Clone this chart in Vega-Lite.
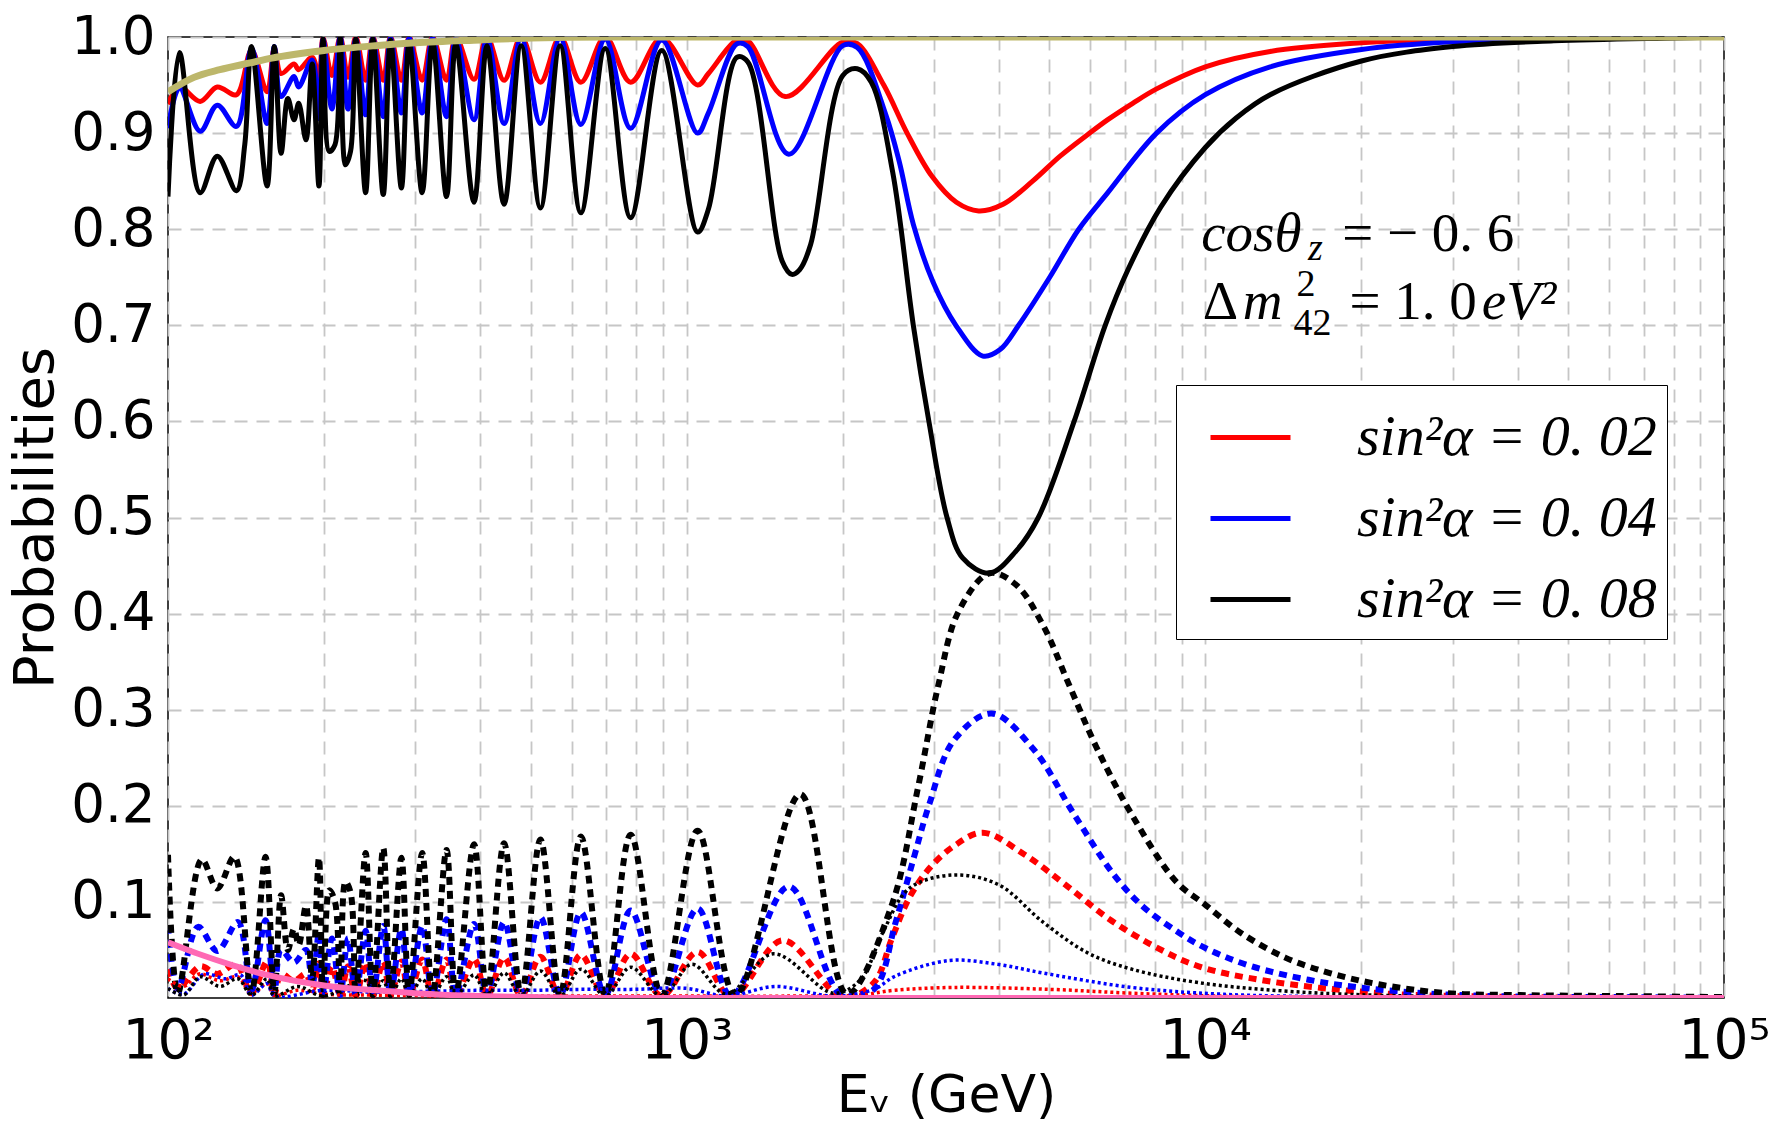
{
  "$schema": "https://vega.github.io/schema/vega-lite/v6.json",
  "width": 1556,
  "height": 961,
  "autosize": {"type": "none"},
  "padding": {"left": 168, "top": 37, "right": 49, "bottom": 137},
  "background": "white",
  "config": {
    "view": {"stroke": "black", "strokeWidth": 1.5},
    "axis": {
      "grid": true,
      "gridDash": [13, 9],
      "gridColor": "#c6c6c6",
      "gridWidth": 1.8,
      "ticks": false,
      "domain": false,
      "labelFont": "DejaVu Sans",
      "labelColor": "black",
      "labelFontSize": 53,
      "titleFont": "DejaVu Sans",
      "titleColor": "black",
      "titleFontSize": 52,
      "titleFontWeight": "normal"
    }
  },
  "datasets": {
    "curves": [
      {"kind": "solid", "s2a": "0.02", "logE": 2.000, "P": 0.930},
      {"kind": "solid", "s2a": "0.02", "logE": 2.022, "P": 0.948},
      {"kind": "solid", "s2a": "0.02", "logE": 2.062, "P": 0.933},
      {"kind": "solid", "s2a": "0.02", "logE": 2.095, "P": 0.948},
      {"kind": "solid", "s2a": "0.02", "logE": 2.132, "P": 0.940},
      {"kind": "solid", "s2a": "0.02", "logE": 2.161, "P": 0.986},
      {"kind": "solid", "s2a": "0.02", "logE": 2.191, "P": 0.943},
      {"kind": "solid", "s2a": "0.02", "logE": 2.205, "P": 0.988},
      {"kind": "solid", "s2a": "0.02", "logE": 2.218, "P": 0.962},
      {"kind": "solid", "s2a": "0.02", "logE": 2.243, "P": 0.972},
      {"kind": "solid", "s2a": "0.02", "logE": 2.252, "P": 0.966},
      {"kind": "solid", "s2a": "0.02", "logE": 2.278, "P": 0.979},
      {"kind": "solid", "s2a": "0.02", "logE": 2.291, "P": 0.958},
      {"kind": "solid", "s2a": "0.02", "logE": 2.299, "P": 0.999},
      {"kind": "solid", "s2a": "0.02", "logE": 2.316, "P": 0.960},
      {"kind": "solid", "s2a": "0.02", "logE": 2.332, "P": 1.0},
      {"kind": "solid", "s2a": "0.02", "logE": 2.347, "P": 0.958},
      {"kind": "solid", "s2a": "0.02", "logE": 2.362, "P": 1.0},
      {"kind": "solid", "s2a": "0.02", "logE": 2.381, "P": 0.955},
      {"kind": "solid", "s2a": "0.02", "logE": 2.395, "P": 1.0},
      {"kind": "solid", "s2a": "0.02", "logE": 2.415, "P": 0.955},
      {"kind": "solid", "s2a": "0.02", "logE": 2.429, "P": 1.0},
      {"kind": "solid", "s2a": "0.02", "logE": 2.450, "P": 0.955},
      {"kind": "solid", "s2a": "0.02", "logE": 2.465, "P": 1.0},
      {"kind": "solid", "s2a": "0.02", "logE": 2.490, "P": 0.955},
      {"kind": "solid", "s2a": "0.02", "logE": 2.510, "P": 1.0},
      {"kind": "solid", "s2a": "0.02", "logE": 2.537, "P": 0.955},
      {"kind": "solid", "s2a": "0.02", "logE": 2.555, "P": 1.0},
      {"kind": "solid", "s2a": "0.02", "logE": 2.590, "P": 0.956},
      {"kind": "solid", "s2a": "0.02", "logE": 2.615, "P": 1.0},
      {"kind": "solid", "s2a": "0.02", "logE": 2.648, "P": 0.955},
      {"kind": "solid", "s2a": "0.02", "logE": 2.681, "P": 1.0},
      {"kind": "solid", "s2a": "0.02", "logE": 2.718, "P": 0.953},
      {"kind": "solid", "s2a": "0.02", "logE": 2.756, "P": 1.0},
      {"kind": "solid", "s2a": "0.02", "logE": 2.796, "P": 0.953},
      {"kind": "solid", "s2a": "0.02", "logE": 2.843, "P": 1.0},
      {"kind": "solid", "s2a": "0.02", "logE": 2.892, "P": 0.953},
      {"kind": "solid", "s2a": "0.02", "logE": 2.952, "P": 0.999},
      {"kind": "solid", "s2a": "0.02", "logE": 3.021, "P": 0.950},
      {"kind": "solid", "s2a": "0.02", "logE": 3.042, "P": 0.962},
      {"kind": "solid", "s2a": "0.02", "logE": 3.097, "P": 0.997},
      {"kind": "solid", "s2a": "0.02", "logE": 3.118, "P": 0.996},
      {"kind": "solid", "s2a": "0.02", "logE": 3.190, "P": 0.938},
      {"kind": "solid", "s2a": "0.02", "logE": 3.301, "P": 0.995},
      {"kind": "solid", "s2a": "0.02", "logE": 3.329, "P": 0.993},
      {"kind": "solid", "s2a": "0.02", "logE": 3.380, "P": 0.950},
      {"kind": "solid", "s2a": "0.02", "logE": 3.425, "P": 0.900},
      {"kind": "solid", "s2a": "0.02", "logE": 3.473, "P": 0.855},
      {"kind": "solid", "s2a": "0.02", "logE": 3.520, "P": 0.828},
      {"kind": "solid", "s2a": "0.02", "logE": 3.563, "P": 0.819},
      {"kind": "solid", "s2a": "0.02", "logE": 3.610, "P": 0.826},
      {"kind": "solid", "s2a": "0.02", "logE": 3.667, "P": 0.850},
      {"kind": "solid", "s2a": "0.02", "logE": 3.720, "P": 0.876},
      {"kind": "solid", "s2a": "0.02", "logE": 3.777, "P": 0.900},
      {"kind": "solid", "s2a": "0.02", "logE": 3.812, "P": 0.914},
      {"kind": "solid", "s2a": "0.02", "logE": 3.860, "P": 0.931},
      {"kind": "solid", "s2a": "0.02", "logE": 3.906, "P": 0.946},
      {"kind": "solid", "s2a": "0.02", "logE": 4.000, "P": 0.969},
      {"kind": "solid", "s2a": "0.02", "logE": 4.125, "P": 0.985},
      {"kind": "solid", "s2a": "0.02", "logE": 4.301, "P": 0.994},
      {"kind": "solid", "s2a": "0.02", "logE": 4.477, "P": 0.998},
      {"kind": "solid", "s2a": "0.02", "logE": 4.700, "P": 1.0},
      {"kind": "solid", "s2a": "0.02", "logE": 5.0, "P": 1.0},

      {"kind": "solid", "s2a": "0.04", "logE": 2.000, "P": 0.905},
      {"kind": "solid", "s2a": "0.04", "logE": 2.022, "P": 0.947},
      {"kind": "solid", "s2a": "0.04", "logE": 2.062, "P": 0.902},
      {"kind": "solid", "s2a": "0.04", "logE": 2.095, "P": 0.929},
      {"kind": "solid", "s2a": "0.04", "logE": 2.132, "P": 0.907},
      {"kind": "solid", "s2a": "0.04", "logE": 2.161, "P": 0.988},
      {"kind": "solid", "s2a": "0.04", "logE": 2.191, "P": 0.910},
      {"kind": "solid", "s2a": "0.04", "logE": 2.205, "P": 0.990},
      {"kind": "solid", "s2a": "0.04", "logE": 2.218, "P": 0.938},
      {"kind": "solid", "s2a": "0.04", "logE": 2.243, "P": 0.959},
      {"kind": "solid", "s2a": "0.04", "logE": 2.252, "P": 0.948},
      {"kind": "solid", "s2a": "0.04", "logE": 2.278, "P": 0.976},
      {"kind": "solid", "s2a": "0.04", "logE": 2.291, "P": 0.915},
      {"kind": "solid", "s2a": "0.04", "logE": 2.299, "P": 0.998},
      {"kind": "solid", "s2a": "0.04", "logE": 2.316, "P": 0.925},
      {"kind": "solid", "s2a": "0.04", "logE": 2.332, "P": 1.0},
      {"kind": "solid", "s2a": "0.04", "logE": 2.347, "P": 0.925},
      {"kind": "solid", "s2a": "0.04", "logE": 2.362, "P": 0.998},
      {"kind": "solid", "s2a": "0.04", "logE": 2.381, "P": 0.919},
      {"kind": "solid", "s2a": "0.04", "logE": 2.395, "P": 0.999},
      {"kind": "solid", "s2a": "0.04", "logE": 2.415, "P": 0.917},
      {"kind": "solid", "s2a": "0.04", "logE": 2.429, "P": 0.999},
      {"kind": "solid", "s2a": "0.04", "logE": 2.450, "P": 0.921},
      {"kind": "solid", "s2a": "0.04", "logE": 2.465, "P": 0.999},
      {"kind": "solid", "s2a": "0.04", "logE": 2.490, "P": 0.921},
      {"kind": "solid", "s2a": "0.04", "logE": 2.510, "P": 0.999},
      {"kind": "solid", "s2a": "0.04", "logE": 2.537, "P": 0.917},
      {"kind": "solid", "s2a": "0.04", "logE": 2.555, "P": 0.999},
      {"kind": "solid", "s2a": "0.04", "logE": 2.590, "P": 0.914},
      {"kind": "solid", "s2a": "0.04", "logE": 2.615, "P": 0.999},
      {"kind": "solid", "s2a": "0.04", "logE": 2.648, "P": 0.910},
      {"kind": "solid", "s2a": "0.04", "logE": 2.681, "P": 0.999},
      {"kind": "solid", "s2a": "0.04", "logE": 2.718, "P": 0.910},
      {"kind": "solid", "s2a": "0.04", "logE": 2.756, "P": 0.999},
      {"kind": "solid", "s2a": "0.04", "logE": 2.796, "P": 0.909},
      {"kind": "solid", "s2a": "0.04", "logE": 2.843, "P": 0.998},
      {"kind": "solid", "s2a": "0.04", "logE": 2.892, "P": 0.905},
      {"kind": "solid", "s2a": "0.04", "logE": 2.952, "P": 0.997},
      {"kind": "solid", "s2a": "0.04", "logE": 3.021, "P": 0.900},
      {"kind": "solid", "s2a": "0.04", "logE": 3.042, "P": 0.921},
      {"kind": "solid", "s2a": "0.04", "logE": 3.097, "P": 0.993},
      {"kind": "solid", "s2a": "0.04", "logE": 3.118, "P": 0.990},
      {"kind": "solid", "s2a": "0.04", "logE": 3.197, "P": 0.878},
      {"kind": "solid", "s2a": "0.04", "logE": 3.301, "P": 0.991},
      {"kind": "solid", "s2a": "0.04", "logE": 3.329, "P": 0.989},
      {"kind": "solid", "s2a": "0.04", "logE": 3.384, "P": 0.919},
      {"kind": "solid", "s2a": "0.04", "logE": 3.410, "P": 0.870},
      {"kind": "solid", "s2a": "0.04", "logE": 3.437, "P": 0.805},
      {"kind": "solid", "s2a": "0.04", "logE": 3.475, "P": 0.745},
      {"kind": "solid", "s2a": "0.04", "logE": 3.519, "P": 0.700},
      {"kind": "solid", "s2a": "0.04", "logE": 3.571, "P": 0.668},
      {"kind": "solid", "s2a": "0.04", "logE": 3.605, "P": 0.675},
      {"kind": "solid", "s2a": "0.04", "logE": 3.640, "P": 0.700},
      {"kind": "solid", "s2a": "0.04", "logE": 3.700, "P": 0.750},
      {"kind": "solid", "s2a": "0.04", "logE": 3.756, "P": 0.800},
      {"kind": "solid", "s2a": "0.04", "logE": 3.812, "P": 0.838},
      {"kind": "solid", "s2a": "0.04", "logE": 3.906, "P": 0.900},
      {"kind": "solid", "s2a": "0.04", "logE": 4.000, "P": 0.940},
      {"kind": "solid", "s2a": "0.04", "logE": 4.125, "P": 0.969},
      {"kind": "solid", "s2a": "0.04", "logE": 4.301, "P": 0.987},
      {"kind": "solid", "s2a": "0.04", "logE": 4.477, "P": 0.995},
      {"kind": "solid", "s2a": "0.04", "logE": 4.672, "P": 0.998},
      {"kind": "solid", "s2a": "0.04", "logE": 4.900, "P": 1.0},
      {"kind": "solid", "s2a": "0.04", "logE": 5.0, "P": 1.0},

      {"kind": "solid", "s2a": "0.08", "logE": 2.000, "P": 0.834},
      {"kind": "solid", "s2a": "0.08", "logE": 2.022, "P": 0.984},
      {"kind": "solid", "s2a": "0.08", "logE": 2.062, "P": 0.838},
      {"kind": "solid", "s2a": "0.08", "logE": 2.095, "P": 0.876},
      {"kind": "solid", "s2a": "0.08", "logE": 2.132, "P": 0.840},
      {"kind": "solid", "s2a": "0.08", "logE": 2.148, "P": 0.888},
      {"kind": "solid", "s2a": "0.08", "logE": 2.161, "P": 0.990},
      {"kind": "solid", "s2a": "0.08", "logE": 2.191, "P": 0.845},
      {"kind": "solid", "s2a": "0.08", "logE": 2.205, "P": 0.990},
      {"kind": "solid", "s2a": "0.08", "logE": 2.218, "P": 0.879},
      {"kind": "solid", "s2a": "0.08", "logE": 2.231, "P": 0.936},
      {"kind": "solid", "s2a": "0.08", "logE": 2.243, "P": 0.914},
      {"kind": "solid", "s2a": "0.08", "logE": 2.252, "P": 0.931},
      {"kind": "solid", "s2a": "0.08", "logE": 2.266, "P": 0.893},
      {"kind": "solid", "s2a": "0.08", "logE": 2.278, "P": 0.972},
      {"kind": "solid", "s2a": "0.08", "logE": 2.291, "P": 0.845},
      {"kind": "solid", "s2a": "0.08", "logE": 2.299, "P": 0.998},
      {"kind": "solid", "s2a": "0.08", "logE": 2.311, "P": 0.881},
      {"kind": "solid", "s2a": "0.08", "logE": 2.322, "P": 0.888},
      {"kind": "solid", "s2a": "0.08", "logE": 2.332, "P": 1.0},
      {"kind": "solid", "s2a": "0.08", "logE": 2.342, "P": 0.867},
      {"kind": "solid", "s2a": "0.08", "logE": 2.352, "P": 0.881},
      {"kind": "solid", "s2a": "0.08", "logE": 2.362, "P": 0.998},
      {"kind": "solid", "s2a": "0.08", "logE": 2.381, "P": 0.838},
      {"kind": "solid", "s2a": "0.08", "logE": 2.395, "P": 0.998},
      {"kind": "solid", "s2a": "0.08", "logE": 2.415, "P": 0.836},
      {"kind": "solid", "s2a": "0.08", "logE": 2.429, "P": 0.997},
      {"kind": "solid", "s2a": "0.08", "logE": 2.450, "P": 0.843},
      {"kind": "solid", "s2a": "0.08", "logE": 2.465, "P": 0.995},
      {"kind": "solid", "s2a": "0.08", "logE": 2.490, "P": 0.838},
      {"kind": "solid", "s2a": "0.08", "logE": 2.510, "P": 0.995},
      {"kind": "solid", "s2a": "0.08", "logE": 2.537, "P": 0.834},
      {"kind": "solid", "s2a": "0.08", "logE": 2.555, "P": 0.993},
      {"kind": "solid", "s2a": "0.08", "logE": 2.590, "P": 0.828},
      {"kind": "solid", "s2a": "0.08", "logE": 2.615, "P": 0.991},
      {"kind": "solid", "s2a": "0.08", "logE": 2.648, "P": 0.826},
      {"kind": "solid", "s2a": "0.08", "logE": 2.681, "P": 0.991},
      {"kind": "solid", "s2a": "0.08", "logE": 2.718, "P": 0.822},
      {"kind": "solid", "s2a": "0.08", "logE": 2.756, "P": 0.991},
      {"kind": "solid", "s2a": "0.08", "logE": 2.796, "P": 0.817},
      {"kind": "solid", "s2a": "0.08", "logE": 2.843, "P": 0.988},
      {"kind": "solid", "s2a": "0.08", "logE": 2.892, "P": 0.812},
      {"kind": "solid", "s2a": "0.08", "logE": 2.952, "P": 0.986},
      {"kind": "solid", "s2a": "0.08", "logE": 3.021, "P": 0.797},
      {"kind": "solid", "s2a": "0.08", "logE": 3.042, "P": 0.821},
      {"kind": "solid", "s2a": "0.08", "logE": 3.097, "P": 0.979},
      {"kind": "solid", "s2a": "0.08", "logE": 3.118, "P": 0.974},
      {"kind": "solid", "s2a": "0.08", "logE": 3.184, "P": 0.767},
      {"kind": "solid", "s2a": "0.08", "logE": 3.203, "P": 0.753},
      {"kind": "solid", "s2a": "0.08", "logE": 3.218, "P": 0.758},
      {"kind": "solid", "s2a": "0.08", "logE": 3.239, "P": 0.784},
      {"kind": "solid", "s2a": "0.08", "logE": 3.301, "P": 0.960},
      {"kind": "solid", "s2a": "0.08", "logE": 3.329, "P": 0.967},
      {"kind": "solid", "s2a": "0.08", "logE": 3.356, "P": 0.953},
      {"kind": "solid", "s2a": "0.08", "logE": 3.397, "P": 0.860},
      {"kind": "solid", "s2a": "0.08", "logE": 3.437, "P": 0.700},
      {"kind": "solid", "s2a": "0.08", "logE": 3.467, "P": 0.600},
      {"kind": "solid", "s2a": "0.08", "logE": 3.502, "P": 0.500},
      {"kind": "solid", "s2a": "0.08", "logE": 3.532, "P": 0.458},
      {"kind": "solid", "s2a": "0.08", "logE": 3.584, "P": 0.442},
      {"kind": "solid", "s2a": "0.08", "logE": 3.635, "P": 0.465},
      {"kind": "solid", "s2a": "0.08", "logE": 3.678, "P": 0.500},
      {"kind": "solid", "s2a": "0.08", "logE": 3.747, "P": 0.600},
      {"kind": "solid", "s2a": "0.08", "logE": 3.807, "P": 0.700},
      {"kind": "solid", "s2a": "0.08", "logE": 3.851, "P": 0.758},
      {"kind": "solid", "s2a": "0.08", "logE": 3.914, "P": 0.823},
      {"kind": "solid", "s2a": "0.08", "logE": 4.000, "P": 0.885},
      {"kind": "solid", "s2a": "0.08", "logE": 4.060, "P": 0.916},
      {"kind": "solid", "s2a": "0.08", "logE": 4.125, "P": 0.940},
      {"kind": "solid", "s2a": "0.08", "logE": 4.301, "P": 0.975},
      {"kind": "solid", "s2a": "0.08", "logE": 4.477, "P": 0.990},
      {"kind": "solid", "s2a": "0.08", "logE": 4.672, "P": 0.996},
      {"kind": "solid", "s2a": "0.08", "logE": 4.907, "P": 0.999},
      {"kind": "solid", "s2a": "0.08", "logE": 5.0, "P": 1.0},

      {"kind": "dashed", "s2a": "0.02", "logE": 2.000, "P": 0.030},
      {"kind": "dashed", "s2a": "0.02", "logE": 2.019, "P": 0.010},
      {"kind": "dashed", "s2a": "0.02", "logE": 2.062, "P": 0.033},
      {"kind": "dashed", "s2a": "0.02", "logE": 2.095, "P": 0.025},
      {"kind": "dashed", "s2a": "0.02", "logE": 2.132, "P": 0.035},
      {"kind": "dashed", "s2a": "0.02", "logE": 2.161, "P": 0.005},
      {"kind": "dashed", "s2a": "0.02", "logE": 2.191, "P": 0.038},
      {"kind": "dashed", "s2a": "0.02", "logE": 2.205, "P": 0.004},
      {"kind": "dashed", "s2a": "0.02", "logE": 2.218, "P": 0.025},
      {"kind": "dashed", "s2a": "0.02", "logE": 2.243, "P": 0.018},
      {"kind": "dashed", "s2a": "0.02", "logE": 2.266, "P": 0.025},
      {"kind": "dashed", "s2a": "0.02", "logE": 2.278, "P": 0.008},
      {"kind": "dashed", "s2a": "0.02", "logE": 2.291, "P": 0.036},
      {"kind": "dashed", "s2a": "0.02", "logE": 2.299, "P": 0.002},
      {"kind": "dashed", "s2a": "0.02", "logE": 2.316, "P": 0.033},
      {"kind": "dashed", "s2a": "0.02", "logE": 2.332, "P": 0.002},
      {"kind": "dashed", "s2a": "0.02", "logE": 2.347, "P": 0.033},
      {"kind": "dashed", "s2a": "0.02", "logE": 2.362, "P": 0.002},
      {"kind": "dashed", "s2a": "0.02", "logE": 2.381, "P": 0.037},
      {"kind": "dashed", "s2a": "0.02", "logE": 2.395, "P": 0.002},
      {"kind": "dashed", "s2a": "0.02", "logE": 2.415, "P": 0.038},
      {"kind": "dashed", "s2a": "0.02", "logE": 2.429, "P": 0.002},
      {"kind": "dashed", "s2a": "0.02", "logE": 2.450, "P": 0.038},
      {"kind": "dashed", "s2a": "0.02", "logE": 2.465, "P": 0.002},
      {"kind": "dashed", "s2a": "0.02", "logE": 2.490, "P": 0.040},
      {"kind": "dashed", "s2a": "0.02", "logE": 2.510, "P": 0.002},
      {"kind": "dashed", "s2a": "0.02", "logE": 2.537, "P": 0.040},
      {"kind": "dashed", "s2a": "0.02", "logE": 2.555, "P": 0.002},
      {"kind": "dashed", "s2a": "0.02", "logE": 2.590, "P": 0.041},
      {"kind": "dashed", "s2a": "0.02", "logE": 2.615, "P": 0.002},
      {"kind": "dashed", "s2a": "0.02", "logE": 2.648, "P": 0.042},
      {"kind": "dashed", "s2a": "0.02", "logE": 2.681, "P": 0.002},
      {"kind": "dashed", "s2a": "0.02", "logE": 2.718, "P": 0.043},
      {"kind": "dashed", "s2a": "0.02", "logE": 2.756, "P": 0.002},
      {"kind": "dashed", "s2a": "0.02", "logE": 2.796, "P": 0.045},
      {"kind": "dashed", "s2a": "0.02", "logE": 2.843, "P": 0.002},
      {"kind": "dashed", "s2a": "0.02", "logE": 2.892, "P": 0.046},
      {"kind": "dashed", "s2a": "0.02", "logE": 2.952, "P": 0.002},
      {"kind": "dashed", "s2a": "0.02", "logE": 3.021, "P": 0.048},
      {"kind": "dashed", "s2a": "0.02", "logE": 3.086, "P": 0.001},
      {"kind": "dashed", "s2a": "0.02", "logE": 3.185, "P": 0.060},
      {"kind": "dashed", "s2a": "0.02", "logE": 3.300, "P": 0.001},
      {"kind": "dashed", "s2a": "0.02", "logE": 3.361, "P": 0.016},
      {"kind": "dashed", "s2a": "0.02", "logE": 3.395, "P": 0.061},
      {"kind": "dashed", "s2a": "0.02", "logE": 3.429, "P": 0.104},
      {"kind": "dashed", "s2a": "0.02", "logE": 3.468, "P": 0.135},
      {"kind": "dashed", "s2a": "0.02", "logE": 3.515, "P": 0.158},
      {"kind": "dashed", "s2a": "0.02", "logE": 3.571, "P": 0.172},
      {"kind": "dashed", "s2a": "0.02", "logE": 3.652, "P": 0.149},
      {"kind": "dashed", "s2a": "0.02", "logE": 3.730, "P": 0.118},
      {"kind": "dashed", "s2a": "0.02", "logE": 3.815, "P": 0.082},
      {"kind": "dashed", "s2a": "0.02", "logE": 3.901, "P": 0.054},
      {"kind": "dashed", "s2a": "0.02", "logE": 3.987, "P": 0.033},
      {"kind": "dashed", "s2a": "0.02", "logE": 4.116, "P": 0.018},
      {"kind": "dashed", "s2a": "0.02", "logE": 4.339, "P": 0.005},
      {"kind": "dashed", "s2a": "0.02", "logE": 4.6, "P": 0.001},
      {"kind": "dashed", "s2a": "0.02", "logE": 5.0, "P": 0.0},

      {"kind": "dashed", "s2a": "0.04", "logE": 2.000, "P": 0.075},
      {"kind": "dashed", "s2a": "0.04", "logE": 2.019, "P": 0.010},
      {"kind": "dashed", "s2a": "0.04", "logE": 2.058, "P": 0.074},
      {"kind": "dashed", "s2a": "0.04", "logE": 2.095, "P": 0.049},
      {"kind": "dashed", "s2a": "0.04", "logE": 2.135, "P": 0.079},
      {"kind": "dashed", "s2a": "0.04", "logE": 2.161, "P": 0.008},
      {"kind": "dashed", "s2a": "0.04", "logE": 2.188, "P": 0.081},
      {"kind": "dashed", "s2a": "0.04", "logE": 2.205, "P": 0.006},
      {"kind": "dashed", "s2a": "0.04", "logE": 2.218, "P": 0.050},
      {"kind": "dashed", "s2a": "0.04", "logE": 2.243, "P": 0.037},
      {"kind": "dashed", "s2a": "0.04", "logE": 2.266, "P": 0.050},
      {"kind": "dashed", "s2a": "0.04", "logE": 2.278, "P": 0.012},
      {"kind": "dashed", "s2a": "0.04", "logE": 2.291, "P": 0.068},
      {"kind": "dashed", "s2a": "0.04", "logE": 2.299, "P": 0.003},
      {"kind": "dashed", "s2a": "0.04", "logE": 2.316, "P": 0.062},
      {"kind": "dashed", "s2a": "0.04", "logE": 2.332, "P": 0.003},
      {"kind": "dashed", "s2a": "0.04", "logE": 2.347, "P": 0.062},
      {"kind": "dashed", "s2a": "0.04", "logE": 2.362, "P": 0.003},
      {"kind": "dashed", "s2a": "0.04", "logE": 2.381, "P": 0.070},
      {"kind": "dashed", "s2a": "0.04", "logE": 2.395, "P": 0.003},
      {"kind": "dashed", "s2a": "0.04", "logE": 2.415, "P": 0.075},
      {"kind": "dashed", "s2a": "0.04", "logE": 2.429, "P": 0.003},
      {"kind": "dashed", "s2a": "0.04", "logE": 2.450, "P": 0.072},
      {"kind": "dashed", "s2a": "0.04", "logE": 2.465, "P": 0.003},
      {"kind": "dashed", "s2a": "0.04", "logE": 2.490, "P": 0.075},
      {"kind": "dashed", "s2a": "0.04", "logE": 2.510, "P": 0.003},
      {"kind": "dashed", "s2a": "0.04", "logE": 2.537, "P": 0.082},
      {"kind": "dashed", "s2a": "0.04", "logE": 2.555, "P": 0.003},
      {"kind": "dashed", "s2a": "0.04", "logE": 2.590, "P": 0.077},
      {"kind": "dashed", "s2a": "0.04", "logE": 2.615, "P": 0.003},
      {"kind": "dashed", "s2a": "0.04", "logE": 2.648, "P": 0.079},
      {"kind": "dashed", "s2a": "0.04", "logE": 2.681, "P": 0.003},
      {"kind": "dashed", "s2a": "0.04", "logE": 2.718, "P": 0.084},
      {"kind": "dashed", "s2a": "0.04", "logE": 2.756, "P": 0.003},
      {"kind": "dashed", "s2a": "0.04", "logE": 2.796, "P": 0.089},
      {"kind": "dashed", "s2a": "0.04", "logE": 2.843, "P": 0.003},
      {"kind": "dashed", "s2a": "0.04", "logE": 2.892, "P": 0.091},
      {"kind": "dashed", "s2a": "0.04", "logE": 2.952, "P": 0.003},
      {"kind": "dashed", "s2a": "0.04", "logE": 3.021, "P": 0.093},
      {"kind": "dashed", "s2a": "0.04", "logE": 3.086, "P": 0.002},
      {"kind": "dashed", "s2a": "0.04", "logE": 3.197, "P": 0.116},
      {"kind": "dashed", "s2a": "0.04", "logE": 3.300, "P": 0.002},
      {"kind": "dashed", "s2a": "0.04", "logE": 3.361, "P": 0.009},
      {"kind": "dashed", "s2a": "0.04", "logE": 3.403, "P": 0.079},
      {"kind": "dashed", "s2a": "0.04", "logE": 3.438, "P": 0.146},
      {"kind": "dashed", "s2a": "0.04", "logE": 3.468, "P": 0.202},
      {"kind": "dashed", "s2a": "0.04", "logE": 3.515, "P": 0.268},
      {"kind": "dashed", "s2a": "0.04", "logE": 3.588, "P": 0.296},
      {"kind": "dashed", "s2a": "0.04", "logE": 3.670, "P": 0.258},
      {"kind": "dashed", "s2a": "0.04", "logE": 3.747, "P": 0.191},
      {"kind": "dashed", "s2a": "0.04", "logE": 3.824, "P": 0.128},
      {"kind": "dashed", "s2a": "0.04", "logE": 3.880, "P": 0.095},
      {"kind": "dashed", "s2a": "0.04", "logE": 3.949, "P": 0.068},
      {"kind": "dashed", "s2a": "0.04", "logE": 4.0, "P": 0.052},
      {"kind": "dashed", "s2a": "0.04", "logE": 4.089, "P": 0.033},
      {"kind": "dashed", "s2a": "0.04", "logE": 4.219, "P": 0.017},
      {"kind": "dashed", "s2a": "0.04", "logE": 4.370, "P": 0.007},
      {"kind": "dashed", "s2a": "0.04", "logE": 4.55, "P": 0.002},
      {"kind": "dashed", "s2a": "0.04", "logE": 4.8, "P": 0.001},
      {"kind": "dashed", "s2a": "0.04", "logE": 5.0, "P": 0.0},

      {"kind": "dashed", "s2a": "0.08", "logE": 2.000, "P": 0.149},
      {"kind": "dashed", "s2a": "0.08", "logE": 2.019, "P": 0.005},
      {"kind": "dashed", "s2a": "0.08", "logE": 2.065, "P": 0.144},
      {"kind": "dashed", "s2a": "0.08", "logE": 2.095, "P": 0.114},
      {"kind": "dashed", "s2a": "0.08", "logE": 2.128, "P": 0.147},
      {"kind": "dashed", "s2a": "0.08", "logE": 2.161, "P": 0.006},
      {"kind": "dashed", "s2a": "0.08", "logE": 2.188, "P": 0.147},
      {"kind": "dashed", "s2a": "0.08", "logE": 2.205, "P": 0.005},
      {"kind": "dashed", "s2a": "0.08", "logE": 2.218, "P": 0.107},
      {"kind": "dashed", "s2a": "0.08", "logE": 2.231, "P": 0.050},
      {"kind": "dashed", "s2a": "0.08", "logE": 2.243, "P": 0.072},
      {"kind": "dashed", "s2a": "0.08", "logE": 2.252, "P": 0.055},
      {"kind": "dashed", "s2a": "0.08", "logE": 2.266, "P": 0.096},
      {"kind": "dashed", "s2a": "0.08", "logE": 2.278, "P": 0.020},
      {"kind": "dashed", "s2a": "0.08", "logE": 2.291, "P": 0.146},
      {"kind": "dashed", "s2a": "0.08", "logE": 2.299, "P": 0.003},
      {"kind": "dashed", "s2a": "0.08", "logE": 2.311, "P": 0.112},
      {"kind": "dashed", "s2a": "0.08", "logE": 2.322, "P": 0.100},
      {"kind": "dashed", "s2a": "0.08", "logE": 2.332, "P": 0.003},
      {"kind": "dashed", "s2a": "0.08", "logE": 2.342, "P": 0.121},
      {"kind": "dashed", "s2a": "0.08", "logE": 2.352, "P": 0.110},
      {"kind": "dashed", "s2a": "0.08", "logE": 2.362, "P": 0.003},
      {"kind": "dashed", "s2a": "0.08", "logE": 2.381, "P": 0.151},
      {"kind": "dashed", "s2a": "0.08", "logE": 2.395, "P": 0.003},
      {"kind": "dashed", "s2a": "0.08", "logE": 2.415, "P": 0.156},
      {"kind": "dashed", "s2a": "0.08", "logE": 2.429, "P": 0.003},
      {"kind": "dashed", "s2a": "0.08", "logE": 2.450, "P": 0.146},
      {"kind": "dashed", "s2a": "0.08", "logE": 2.465, "P": 0.003},
      {"kind": "dashed", "s2a": "0.08", "logE": 2.490, "P": 0.151},
      {"kind": "dashed", "s2a": "0.08", "logE": 2.510, "P": 0.003},
      {"kind": "dashed", "s2a": "0.08", "logE": 2.537, "P": 0.154},
      {"kind": "dashed", "s2a": "0.08", "logE": 2.555, "P": 0.003},
      {"kind": "dashed", "s2a": "0.08", "logE": 2.590, "P": 0.160},
      {"kind": "dashed", "s2a": "0.08", "logE": 2.615, "P": 0.003},
      {"kind": "dashed", "s2a": "0.08", "logE": 2.648, "P": 0.161},
      {"kind": "dashed", "s2a": "0.08", "logE": 2.681, "P": 0.003},
      {"kind": "dashed", "s2a": "0.08", "logE": 2.718, "P": 0.165},
      {"kind": "dashed", "s2a": "0.08", "logE": 2.756, "P": 0.003},
      {"kind": "dashed", "s2a": "0.08", "logE": 2.796, "P": 0.168},
      {"kind": "dashed", "s2a": "0.08", "logE": 2.843, "P": 0.003},
      {"kind": "dashed", "s2a": "0.08", "logE": 2.892, "P": 0.170},
      {"kind": "dashed", "s2a": "0.08", "logE": 2.952, "P": 0.003},
      {"kind": "dashed", "s2a": "0.08", "logE": 3.021, "P": 0.174},
      {"kind": "dashed", "s2a": "0.08", "logE": 3.094, "P": 0.002},
      {"kind": "dashed", "s2a": "0.08", "logE": 3.219, "P": 0.212},
      {"kind": "dashed", "s2a": "0.08", "logE": 3.309, "P": 0.004},
      {"kind": "dashed", "s2a": "0.08", "logE": 3.395, "P": 0.096},
      {"kind": "dashed", "s2a": "0.08", "logE": 3.446, "P": 0.219},
      {"kind": "dashed", "s2a": "0.08", "logE": 3.485, "P": 0.325},
      {"kind": "dashed", "s2a": "0.08", "logE": 3.524, "P": 0.402},
      {"kind": "dashed", "s2a": "0.08", "logE": 3.584, "P": 0.442},
      {"kind": "dashed", "s2a": "0.08", "logE": 3.635, "P": 0.430},
      {"kind": "dashed", "s2a": "0.08", "logE": 3.687, "P": 0.388},
      {"kind": "dashed", "s2a": "0.08", "logE": 3.738, "P": 0.325},
      {"kind": "dashed", "s2a": "0.08", "logE": 3.790, "P": 0.261},
      {"kind": "dashed", "s2a": "0.08", "logE": 3.858, "P": 0.191},
      {"kind": "dashed", "s2a": "0.08", "logE": 3.944, "P": 0.121},
      {"kind": "dashed", "s2a": "0.08", "logE": 4.0, "P": 0.097},
      {"kind": "dashed", "s2a": "0.08", "logE": 4.068, "P": 0.068},
      {"kind": "dashed", "s2a": "0.08", "logE": 4.154, "P": 0.042},
      {"kind": "dashed", "s2a": "0.08", "logE": 4.240, "P": 0.026},
      {"kind": "dashed", "s2a": "0.08", "logE": 4.337, "P": 0.014},
      {"kind": "dashed", "s2a": "0.08", "logE": 4.467, "P": 0.005},
      {"kind": "dashed", "s2a": "0.08", "logE": 4.607, "P": 0.003},
      {"kind": "dashed", "s2a": "0.08", "logE": 4.8, "P": 0.002},
      {"kind": "dashed", "s2a": "0.08", "logE": 5.0, "P": 0.001},

      {"kind": "dotted", "s2a": "0.02", "logE": 2.000, "P": 0.020},
      {"kind": "dotted", "s2a": "0.02", "logE": 2.030, "P": 0.012},
      {"kind": "dotted", "s2a": "0.02", "logE": 2.060, "P": 0.025},
      {"kind": "dotted", "s2a": "0.02", "logE": 2.100, "P": 0.018},
      {"kind": "dotted", "s2a": "0.02", "logE": 2.135, "P": 0.022},
      {"kind": "dotted", "s2a": "0.02", "logE": 2.161, "P": 0.004},
      {"kind": "dotted", "s2a": "0.02", "logE": 2.191, "P": 0.015},
      {"kind": "dotted", "s2a": "0.02", "logE": 2.205, "P": 0.003},
      {"kind": "dotted", "s2a": "0.02", "logE": 2.250, "P": 0.008},
      {"kind": "dotted", "s2a": "0.02", "logE": 2.300, "P": 0.004},
      {"kind": "dotted", "s2a": "0.02", "logE": 2.400, "P": 0.003},
      {"kind": "dotted", "s2a": "0.02", "logE": 2.600, "P": 0.002},
      {"kind": "dotted", "s2a": "0.02", "logE": 2.800, "P": 0.002},
      {"kind": "dotted", "s2a": "0.02", "logE": 3.000, "P": 0.002},
      {"kind": "dotted", "s2a": "0.02", "logE": 3.200, "P": 0.002},
      {"kind": "dotted", "s2a": "0.02", "logE": 3.330, "P": 0.003},
      {"kind": "dotted", "s2a": "0.02", "logE": 3.400, "P": 0.008},
      {"kind": "dotted", "s2a": "0.02", "logE": 3.515, "P": 0.011},
      {"kind": "dotted", "s2a": "0.02", "logE": 3.700, "P": 0.009},
      {"kind": "dotted", "s2a": "0.02", "logE": 3.858, "P": 0.005},
      {"kind": "dotted", "s2a": "0.02", "logE": 4.030, "P": 0.002},
      {"kind": "dotted", "s2a": "0.02", "logE": 4.300, "P": 0.0},
      {"kind": "dotted", "s2a": "0.02", "logE": 5.0, "P": 0.0},

      {"kind": "dotted", "s2a": "0.04", "logE": 2.000, "P": 0.010},
      {"kind": "dotted", "s2a": "0.04", "logE": 2.030, "P": 0.004},
      {"kind": "dotted", "s2a": "0.04", "logE": 2.070, "P": 0.025},
      {"kind": "dotted", "s2a": "0.04", "logE": 2.110, "P": 0.020},
      {"kind": "dotted", "s2a": "0.04", "logE": 2.140, "P": 0.024},
      {"kind": "dotted", "s2a": "0.04", "logE": 2.161, "P": 0.003},
      {"kind": "dotted", "s2a": "0.04", "logE": 2.191, "P": 0.015},
      {"kind": "dotted", "s2a": "0.04", "logE": 2.205, "P": 0.002},
      {"kind": "dotted", "s2a": "0.04", "logE": 2.300, "P": 0.008},
      {"kind": "dotted", "s2a": "0.04", "logE": 2.400, "P": 0.006},
      {"kind": "dotted", "s2a": "0.04", "logE": 2.500, "P": 0.007},
      {"kind": "dotted", "s2a": "0.04", "logE": 2.600, "P": 0.008},
      {"kind": "dotted", "s2a": "0.04", "logE": 2.700, "P": 0.008},
      {"kind": "dotted", "s2a": "0.04", "logE": 2.800, "P": 0.009},
      {"kind": "dotted", "s2a": "0.04", "logE": 2.900, "P": 0.009},
      {"kind": "dotted", "s2a": "0.04", "logE": 3.000, "P": 0.010},
      {"kind": "dotted", "s2a": "0.04", "logE": 3.077, "P": 0.002},
      {"kind": "dotted", "s2a": "0.04", "logE": 3.172, "P": 0.012},
      {"kind": "dotted", "s2a": "0.04", "logE": 3.283, "P": 0.002},
      {"kind": "dotted", "s2a": "0.04", "logE": 3.361, "P": 0.009},
      {"kind": "dotted", "s2a": "0.04", "logE": 3.403, "P": 0.023},
      {"kind": "dotted", "s2a": "0.04", "logE": 3.506, "P": 0.039},
      {"kind": "dotted", "s2a": "0.04", "logE": 3.600, "P": 0.035},
      {"kind": "dotted", "s2a": "0.04", "logE": 3.687, "P": 0.026},
      {"kind": "dotted", "s2a": "0.04", "logE": 3.858, "P": 0.011},
      {"kind": "dotted", "s2a": "0.04", "logE": 4.030, "P": 0.004},
      {"kind": "dotted", "s2a": "0.04", "logE": 4.300, "P": 0.001},
      {"kind": "dotted", "s2a": "0.04", "logE": 5.0, "P": 0.0},

      {"kind": "dotted", "s2a": "0.08", "logE": 2.000, "P": 0.010},
      {"kind": "dotted", "s2a": "0.08", "logE": 2.030, "P": 0.003},
      {"kind": "dotted", "s2a": "0.08", "logE": 2.062, "P": 0.022},
      {"kind": "dotted", "s2a": "0.08", "logE": 2.100, "P": 0.012},
      {"kind": "dotted", "s2a": "0.08", "logE": 2.135, "P": 0.020},
      {"kind": "dotted", "s2a": "0.08", "logE": 2.161, "P": 0.003},
      {"kind": "dotted", "s2a": "0.08", "logE": 2.191, "P": 0.020},
      {"kind": "dotted", "s2a": "0.08", "logE": 2.205, "P": 0.002},
      {"kind": "dotted", "s2a": "0.08", "logE": 2.250, "P": 0.012},
      {"kind": "dotted", "s2a": "0.08", "logE": 2.299, "P": 0.002},
      {"kind": "dotted", "s2a": "0.08", "logE": 2.381, "P": 0.018},
      {"kind": "dotted", "s2a": "0.08", "logE": 2.395, "P": 0.002},
      {"kind": "dotted", "s2a": "0.08", "logE": 2.415, "P": 0.018},
      {"kind": "dotted", "s2a": "0.08", "logE": 2.429, "P": 0.002},
      {"kind": "dotted", "s2a": "0.08", "logE": 2.450, "P": 0.020},
      {"kind": "dotted", "s2a": "0.08", "logE": 2.465, "P": 0.002},
      {"kind": "dotted", "s2a": "0.08", "logE": 2.490, "P": 0.020},
      {"kind": "dotted", "s2a": "0.08", "logE": 2.510, "P": 0.002},
      {"kind": "dotted", "s2a": "0.08", "logE": 2.537, "P": 0.022},
      {"kind": "dotted", "s2a": "0.08", "logE": 2.555, "P": 0.002},
      {"kind": "dotted", "s2a": "0.08", "logE": 2.590, "P": 0.024},
      {"kind": "dotted", "s2a": "0.08", "logE": 2.615, "P": 0.002},
      {"kind": "dotted", "s2a": "0.08", "logE": 2.648, "P": 0.026},
      {"kind": "dotted", "s2a": "0.08", "logE": 2.681, "P": 0.002},
      {"kind": "dotted", "s2a": "0.08", "logE": 2.718, "P": 0.028},
      {"kind": "dotted", "s2a": "0.08", "logE": 2.756, "P": 0.002},
      {"kind": "dotted", "s2a": "0.08", "logE": 2.796, "P": 0.030},
      {"kind": "dotted", "s2a": "0.08", "logE": 2.843, "P": 0.002},
      {"kind": "dotted", "s2a": "0.08", "logE": 2.892, "P": 0.032},
      {"kind": "dotted", "s2a": "0.08", "logE": 2.952, "P": 0.002},
      {"kind": "dotted", "s2a": "0.08", "logE": 3.010, "P": 0.035},
      {"kind": "dotted", "s2a": "0.08", "logE": 3.077, "P": 0.004},
      {"kind": "dotted", "s2a": "0.08", "logE": 3.167, "P": 0.046},
      {"kind": "dotted", "s2a": "0.08", "logE": 3.283, "P": 0.005},
      {"kind": "dotted", "s2a": "0.08", "logE": 3.335, "P": 0.019},
      {"kind": "dotted", "s2a": "0.08", "logE": 3.378, "P": 0.068},
      {"kind": "dotted", "s2a": "0.08", "logE": 3.429, "P": 0.114},
      {"kind": "dotted", "s2a": "0.08", "logE": 3.515, "P": 0.128},
      {"kind": "dotted", "s2a": "0.08", "logE": 3.601, "P": 0.118},
      {"kind": "dotted", "s2a": "0.08", "logE": 3.687, "P": 0.079},
      {"kind": "dotted", "s2a": "0.08", "logE": 3.773, "P": 0.047},
      {"kind": "dotted", "s2a": "0.08", "logE": 3.858, "P": 0.030},
      {"kind": "dotted", "s2a": "0.08", "logE": 3.987, "P": 0.016},
      {"kind": "dotted", "s2a": "0.08", "logE": 4.159, "P": 0.007},
      {"kind": "dotted", "s2a": "0.08", "logE": 4.400, "P": 0.002},
      {"kind": "dotted", "s2a": "0.08", "logE": 5.0, "P": 0.0},

      {"kind": "khaki", "s2a": "none", "logE": 2.000, "P": 0.943},
      {"kind": "khaki", "s2a": "none", "logE": 2.050, "P": 0.958},
      {"kind": "khaki", "s2a": "none", "logE": 2.100, "P": 0.966},
      {"kind": "khaki", "s2a": "none", "logE": 2.158, "P": 0.973},
      {"kind": "khaki", "s2a": "none", "logE": 2.200, "P": 0.978},
      {"kind": "khaki", "s2a": "none", "logE": 2.301, "P": 0.986},
      {"kind": "khaki", "s2a": "none", "logE": 2.400, "P": 0.991},
      {"kind": "khaki", "s2a": "none", "logE": 2.477, "P": 0.994},
      {"kind": "khaki", "s2a": "none", "logE": 2.602, "P": 0.997},
      {"kind": "khaki", "s2a": "none", "logE": 2.700, "P": 0.999},
      {"kind": "khaki", "s2a": "none", "logE": 2.850, "P": 1.0},
      {"kind": "khaki", "s2a": "none", "logE": 5.0, "P": 1.0},

      {"kind": "pink", "s2a": "none", "logE": 2.000, "P": 0.058},
      {"kind": "pink", "s2a": "none", "logE": 2.058, "P": 0.046},
      {"kind": "pink", "s2a": "none", "logE": 2.125, "P": 0.034},
      {"kind": "pink", "s2a": "none", "logE": 2.191, "P": 0.024},
      {"kind": "pink", "s2a": "none", "logE": 2.301, "P": 0.013},
      {"kind": "pink", "s2a": "none", "logE": 2.400, "P": 0.008},
      {"kind": "pink", "s2a": "none", "logE": 2.477, "P": 0.005},
      {"kind": "pink", "s2a": "none", "logE": 2.602, "P": 0.002},
      {"kind": "pink", "s2a": "none", "logE": 2.700, "P": 0.001},
      {"kind": "pink", "s2a": "none", "logE": 2.850, "P": 0.0},
      {"kind": "pink", "s2a": "none", "logE": 5.0, "P": 0.0}
    ],
    "notes": [
      {"style": "bigItalic", "text": "cosθ", "logE": 3.992, "P": 0.777},
      {"style": "smallItalic", "text": "z", "logE": 4.198, "P": 0.768},
      {"style": "bigUpright", "text": "= − 0. 6", "logE": 4.264, "P": 0.777},
      {"style": "bigUpright", "text": "Δ", "logE": 3.995, "P": 0.7066},
      {"style": "bigItalic", "text": "m", "logE": 4.072, "P": 0.7066},
      {"style": "smallUpright", "text": "2", "logE": 4.176, "P": 0.730},
      {"style": "smallUpright", "text": "42", "logE": 4.170, "P": 0.690},
      {"style": "bigUpright", "text": "= 1. 0", "logE": 4.278, "P": 0.7066},
      {"style": "bigItalic", "text": "eV²", "logE": 4.533, "P": 0.7066}
    ]
  },
  "encoding": {
    "x": {
      "field": "logE",
      "type": "quantitative",
      "scale": {"domain": [2, 5], "nice": false, "zero": false},
      "axis": {
        "values": [2, 2.30103, 2.47712, 2.60206, 2.69897, 2.77815, 2.8451, 2.90309, 2.95424,
                   3, 3.30103, 3.47712, 3.60206, 3.69897, 3.77815, 3.8451, 3.90309, 3.95424,
                   4, 4.30103, 4.47712, 4.60206, 4.69897, 4.77815, 4.8451, 4.90309, 4.95424, 5],
        "labelExpr": "datum.value == 2 ? '10²' : datum.value == 3 ? '10³' : datum.value == 4 ? '10⁴' : datum.value == 5 ? '10⁵' : ''",
        "labelOverlap": false,
        "labelFlush": false,
        "labelFontSize": 55,
        "labelPadding": 16,
        "title": "Eᵥ (GeV)",
        "titlePadding": 2
      }
    },
    "y": {
      "field": "P",
      "type": "quantitative",
      "scale": {"domain": [0, 1], "nice": false},
      "axis": {
        "values": [0.1, 0.2, 0.3, 0.4, 0.5, 0.6, 0.7, 0.8, 0.9, 1.0],
        "format": ".1f",
        "labelPadding": 13,
        "title": "Probabilities",
        "titleFontSize": 56,
        "titlePadding": 6
      }
    }
  },
  "layer": [
    {
      "data": {"name": "curves"},
      "transform": [{"filter": "datum.kind == 'solid'"}],
      "mark": {"type": "line", "strokeWidth": 5, "clip": true, "interpolate": "catmull-rom"},
      "encoding": {
        "color": {
          "field": "s2a",
          "type": "nominal",
          "scale": {"domain": ["0.02", "0.04", "0.08"], "range": ["#ff0000", "#0000ff", "#000000"]},
          "legend": {
            "orient": "none",
            "legendX": 1008,
            "legendY": 348,
            "title": null,
            "labelExpr": "'sin²α = ' + replace(datum.label, '.', '. ') + '\u00a0\u00a0\u00a0'",
            "labelFont": "Liberation Serif",
            "labelFontStyle": "italic",
            "labelFontSize": 58,
            "labelColor": "black",
            "labelLimit": 600,
            "symbolType": "stroke",
            "symbolSize": 6400,
            "symbolStrokeWidth": 5,
            "symbolOffset": 22,
            "labelOffset": 64,
            "padding": 10,
            "rowPadding": 9,
            "strokeColor": "black",
            "fillColor": "white"
          }
        }
      }
    },
    {
      "data": {"name": "curves"},
      "transform": [{"filter": "datum.kind == 'dashed'"}],
      "mark": {"type": "line", "strokeWidth": 6, "strokeDash": [8, 6], "clip": true, "interpolate": "catmull-rom"},
      "encoding": {
        "color": {
          "field": "s2a",
          "type": "nominal",
          "scale": {"domain": ["0.02", "0.04", "0.08"], "range": ["#ff0000", "#0000ff", "#000000"]},
          "legend": null
        }
      }
    },
    {
      "data": {"name": "curves"},
      "transform": [{"filter": "datum.kind == 'dotted'"}],
      "mark": {"type": "line", "strokeWidth": 3.5, "strokeDash": [3, 3], "clip": true, "interpolate": "catmull-rom"},
      "encoding": {
        "color": {
          "field": "s2a",
          "type": "nominal",
          "scale": {"domain": ["0.02", "0.04", "0.08"], "range": ["#ff0000", "#0000ff", "#000000"]},
          "legend": null
        }
      }
    },
    {
      "data": {"name": "curves"},
      "transform": [{"filter": "datum.kind == 'khaki'"}],
      "mark": {"type": "line", "strokeWidth": 7, "color": "#bdb76b", "clip": true, "interpolate": "monotone"},
      "encoding": {}
    },
    {
      "data": {"name": "curves"},
      "transform": [{"filter": "datum.kind == 'pink'"}],
      "mark": {"type": "line", "strokeWidth": 6, "color": "#ff69b4", "clip": true, "interpolate": "monotone"},
      "encoding": {}
    },
    {
      "data": {"name": "notes"},
      "transform": [{"filter": "datum.style == 'bigItalic'"}],
      "mark": {"type": "text", "align": "left", "baseline": "alphabetic", "font": "Liberation Serif", "fontSize": 55, "fontStyle": "italic", "color": "black"},
      "encoding": {"text": {"field": "text"}}
    },
    {
      "data": {"name": "notes"},
      "transform": [{"filter": "datum.style == 'bigUpright'"}],
      "mark": {"type": "text", "align": "left", "baseline": "alphabetic", "font": "Liberation Serif", "fontSize": 55, "color": "black"},
      "encoding": {"text": {"field": "text"}}
    },
    {
      "data": {"name": "notes"},
      "transform": [{"filter": "datum.style == 'smallItalic'"}],
      "mark": {"type": "text", "align": "left", "baseline": "alphabetic", "font": "Liberation Serif", "fontSize": 38, "fontStyle": "italic", "color": "black"},
      "encoding": {"text": {"field": "text"}}
    },
    {
      "data": {"name": "notes"},
      "transform": [{"filter": "datum.style == 'smallUpright'"}],
      "mark": {"type": "text", "align": "left", "baseline": "alphabetic", "font": "Liberation Serif", "fontSize": 38, "color": "black"},
      "encoding": {"text": {"field": "text"}}
    }
  ],
  "resolve": {"scale": {"color": "independent"}}
}
